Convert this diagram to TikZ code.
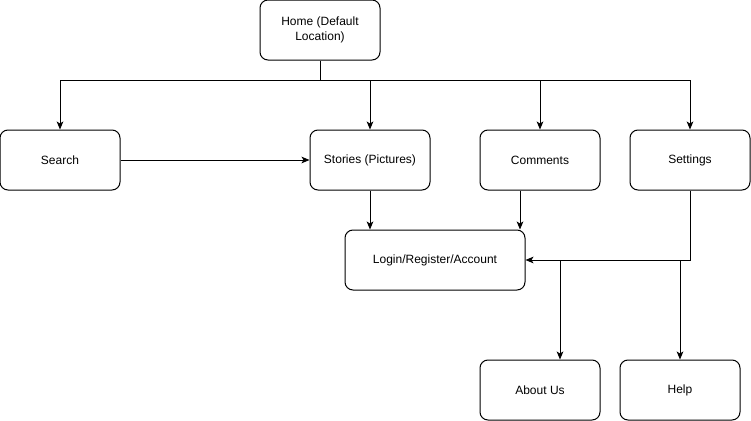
\documentclass[tikz,border=0pt]{standalone}
\usepackage{fontspec}
\setmainfont{Liberation Sans}
\usetikzlibrary{arrows.meta}
\begin{document}
\begin{tikzpicture}[x=0.75pt,y=-0.75pt,
  box/.style={draw=black,line width=0.75pt,rounded corners=6pt,fill=white,
    minimum width=90pt,minimum height=45pt,inner sep=0pt,align=center,
    font=\fontsize{9pt}{11pt}\selectfont},
  conn/.style={line width=0.75pt,draw=black},
  arr/.style={conn,-{Stealth[length=6pt,width=5pt,inset=1.5pt]}}]
\useasboundingbox (0,0) rectangle (751,421);
\fill[white] (0,0) rectangle (751,421);
\node[box] (home) at (320,30) {Home (Default\\Location)};
\node[box] (search) at (60,160) {Search};
\node[box] (stories) at (370,160) {Stories (Pictures)};
\node[box] (comments) at (540,160) {Comments};
\node[box] (settings) at (690,160) {Settings};
\node[box,minimum width=135pt] (login) at (435,260) {Login/Register/Account};
\node[box] (about) at (540,390) {About Us};
\node[box] (help) at (680,390) {Help};
\coordinate (split) at (320,80);
\coordinate (j1) at (560,260);
\draw[conn] (home.south) -- (split);
\draw[arr] (split) -| (search.north);
\draw[arr] (split) -| (stories.north);
\draw[arr] (split) -| (comments.north);
\draw[arr] (split) -| (settings.north);
\draw[arr] (search.east) -- (stories.west);
\draw[arr] (stories.south) -- (stories.south |- login.north);
\draw[arr] ([xshift=-15pt]comments.south) -- ([xshift=-15pt]comments.south |- login.north);
\draw[arr] (settings.south) |- (login.east);
\draw[arr] (j1) -- (j1 |- about.north);
\draw[arr] (help.north |- login.east) -- (help.north);
\end{tikzpicture}
\end{document}
